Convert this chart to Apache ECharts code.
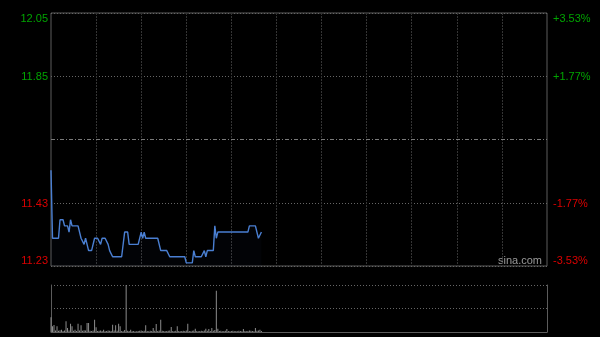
<!DOCTYPE html>
<html><head><meta charset="utf-8">
<script src="https://cdn.jsdelivr.net/npm/echarts@6/dist/echarts.min.js"></script>
<style>html,body{margin:0;padding:0;background:#000}#c{width:600px;height:337px}</style>
</head><body><div id="c"></div>
<script>
const prevClose = 11.64;
const yMin = 11.23, yMax = 12.05, yStep = 0.205;
const leftLabels = ['11.23', '11.43', '', '11.85', '12.05'];
const rightLabels = ['-3.53%', '-1.77%', '', '+1.77%', '+3.53%'];

const prices = [
 11.54,11.32,11.32,11.32,11.32,11.32,11.38,11.38,11.38,11.36,
 11.36,11.36,11.34,11.38,11.36,11.36,11.36,11.36,11.36,11.36,
 11.32,11.32,11.30,11.32,11.30,11.28,11.28,11.28,11.28,11.32,
 11.32,11.32,11.32,11.30,11.32,11.32,11.32,11.32,11.30,11.28,
 11.28,11.26,11.26,11.26,11.26,11.26,11.26,11.26,11.26,11.34,
 11.34,11.34,11.30,11.30,11.30,11.30,11.30,11.30,11.30,11.30,
 11.34,11.32,11.34,11.32,11.32,11.32,11.32,11.32,11.32,11.32,
 11.32,11.32,11.32,11.28,11.28,11.28,11.28,11.28,11.28,11.26,
 11.26,11.26,11.26,11.26,11.26,11.26,11.26,11.26,11.26,11.26,
 11.24,11.24,11.24,11.24,11.24,11.28,11.26,11.26,11.26,11.26,
 11.26,11.26,11.28,11.26,11.28,11.28,11.28,11.28,11.28,11.36,
 11.32,11.34,11.34,11.34,11.34,11.34,11.34,11.34,11.34,11.34,
 11.34,11.34,11.34,11.34,11.34,11.34,11.34,11.34,11.34,11.34,
 11.34,11.34,11.36,11.36,11.36,11.36,11.36,11.36,11.32,11.32,
 11.34
];

const volumes = [
 147,57,70,15,57,12,18,23,10,14,
 107,40,15,83,57,12,23,10,83,14,
 67,12,18,15,90,90,12,10,14,123,
 47,10,12,15,10,23,8,10,14,12,
 10,73,15,67,12,83,57,10,8,20,
 470,12,10,23,8,10,6,8,10,12,
 15,10,12,67,10,8,12,10,40,12,
 80,10,14,123,12,10,8,10,12,15,
 50,10,8,12,57,10,8,10,12,10,
 14,83,10,8,12,15,33,10,8,10,
 12,10,14,33,12,30,10,40,12,20,
 413,33,10,12,8,10,12,30,10,8,
 10,12,8,10,8,12,10,8,30,10,
 8,10,15,12,10,8,40,12,14,23,
 10
];
const volMax = 470;

// trading minutes 09:30-12:00, 13:00-16:00 (lunch merged)
const times = [];
for (let m = 0; m <= 330; m++) {
  const t = m <= 150 ? 570 + m : 780 + (m - 150);
  times.push(String(Math.floor(t / 60)).padStart(2, '0') + ':' + String(t % 60).padStart(2, '0'));
}

const GREEN = '#00a400', RED = '#dc0000';
const FONT = 'Liberation Sans, Arial, sans-serif';
const rich = {
  g: {color: GREEN, fontSize: 11, fontFamily: FONT, padding: [2, 0, 0, 0]},
  gT: {color: GREEN, fontSize: 11, fontFamily: FONT, padding: [12, 0, 0, 0]},
  r: {color: RED, fontSize: 11, fontFamily: FONT, padding: [2, 0, 0, 0]},
  rB: {color: RED, fontSize: 11, fontFamily: FONT, padding: [0, 0, 11, 0]}
};
function fmt(labels) {
  return function (v) {
    const k = Math.round((v - yMin) / yStep);
    const s = labels[k];
    if (!s) return '';
    const st = k > 2 ? (k === 4 ? 'gT' : 'g') : (k === 0 ? 'rB' : 'r');
    return '{' + st + '|' + s + '}';
  };
}

const chart = echarts.init(document.getElementById('c'), null, {renderer: 'canvas'});
chart.setOption({
  backgroundColor: '#000',
  animation: false,
  grid: [
    {left: 51, right: 53, top: 13, height: 253, show: true, borderColor: '#5c5c5c', borderWidth: 1, backgroundColor: 'transparent'},
    {left: 51, right: 53, top: 285, height: 47}
  ],
  xAxis: [
    {type: 'category', gridIndex: 0, data: times, boundaryGap: false,
     axisLine: {show: false}, axisTick: {show: false}, axisLabel: {show: false},
     splitLine: {show: true, interval: function (i) { return i % 30 === 0 && i > 0 && i < 330; },
                 lineStyle: {color: '#343434', width: 1, type: [2, 1]}}},
    {type: 'category', gridIndex: 1, data: times, boundaryGap: false,
     axisLine: {show: true, lineStyle: {color: '#5c5c5c'}}, axisTick: {show: false}, axisLabel: {show: false},
     splitLine: {show: false}}
  ],
  yAxis: [
    {type: 'value', gridIndex: 0, min: yMin, max: yMax, interval: yStep, position: 'left',
     axisLine: {show: false}, axisTick: {show: false},
     axisLabel: {show: true, margin: 3, formatter: fmt(leftLabels), rich: rich},
     splitLine: {show: true, lineStyle: {color: '#666', width: 1, type: [1, 2]}}},
    {type: 'value', gridIndex: 0, min: yMin, max: yMax, interval: yStep, position: 'right',
     axisLine: {show: false}, axisTick: {show: false},
     axisLabel: {show: true, margin: 6, formatter: fmt(rightLabels), rich: rich},
     splitLine: {show: false}},
    {type: 'value', gridIndex: 1, min: 0, max: volMax, interval: volMax / 2, position: 'left',
     axisLine: {show: true, lineStyle: {color: '#5c5c5c'}}, axisTick: {show: false}, axisLabel: {show: false},
     splitLine: {show: true, lineStyle: {color: '#666', width: 1, type: [1, 2]}}},
    {type: 'value', gridIndex: 1, min: 0, max: volMax, interval: volMax / 2, position: 'right',
     axisLine: {show: true, lineStyle: {color: '#5c5c5c'}}, axisTick: {show: false}, axisLabel: {show: false},
     splitLine: {show: false}}
  ],
  series: [
    {type: 'line', xAxisIndex: 0, yAxisIndex: 0, data: prices, symbol: 'none', smooth: false,
     lineStyle: {color: '#4a7fd2', width: 1.4},
     areaStyle: {color: 'rgba(50,90,170,0.05)'},
     markLine: {silent: true, symbol: 'none', label: {show: false},
       lineStyle: {color: '#7a7a7a', width: 1, type: [4, 2, 1, 2]},
       data: [{yAxis: prevClose}]}},
    {type: 'bar', xAxisIndex: 1, yAxisIndex: 2, data: volumes, barWidth: 1,
     itemStyle: {color: '#8c8c8c'}}
  ],
  graphic: [
    {type: 'text', left: 498, top: 255,
     style: {text: 'sina.com', fill: '#9a9a9a', font: '11px "Liberation Sans", Arial, sans-serif'}}
  ]
});
</script>
</body></html>
